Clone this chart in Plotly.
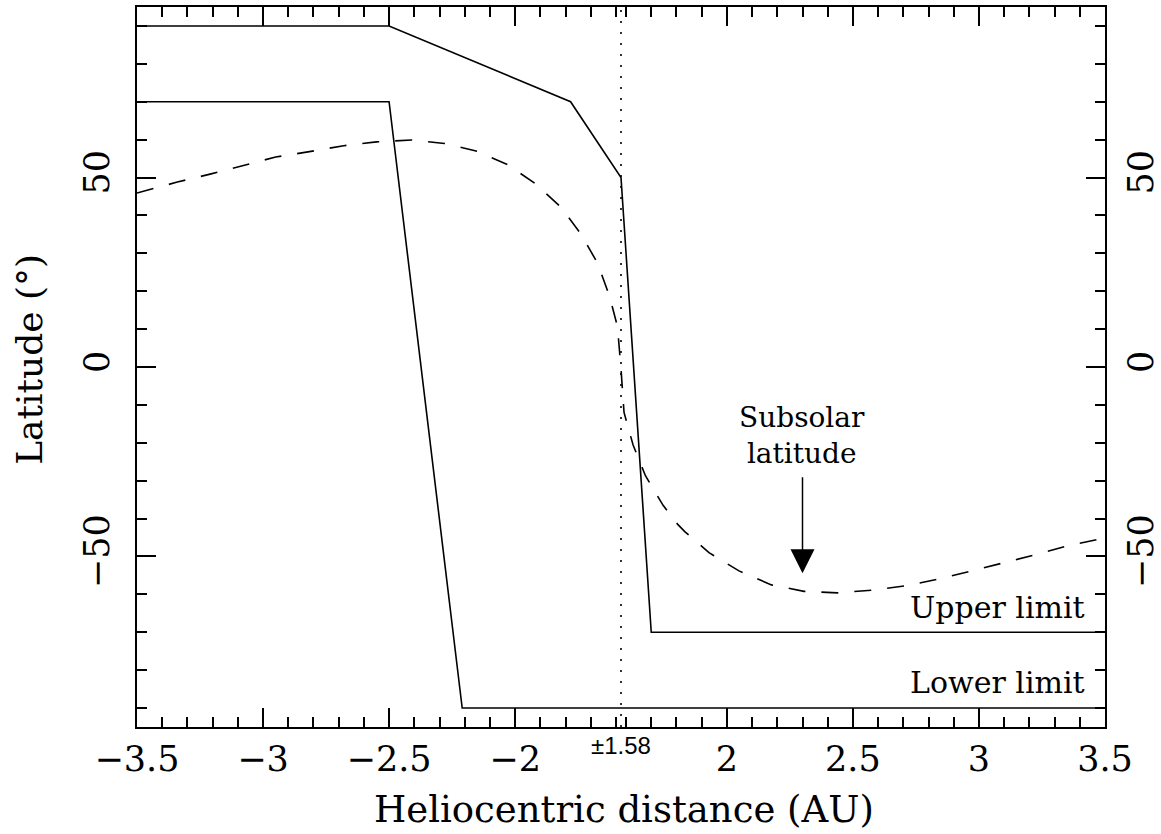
import plotly.graph_objects as go

# ---------------- data (heliocentric distance in AU, latitude in degrees) ----------------
BREAK = 1.58  # perihelion distance: axis jumps from -1.58 to +1.58

upper_dist = [-3.5, -2.5, -1.78, -1.58, 1.58, 1.70, 3.5]
upper_lat = [90, 90, 70, 50, 50, -70, -70]

lower_dist = [-3.5, -2.5, -2.21, 3.5]
lower_lat = [70, 70, -90, -90]

subsolar_dist = [-3.5, -3.34, -3.21, -3.08, -2.95, -2.81, -2.68, -2.55, -2.41, -2.28,
                 -2.15, -2.03, -1.92, -1.82, -1.74, -1.673, -1.626, -1.594, -1.582, -1.58,
                 1.58, 1.592, 1.628, 1.677, 1.747, 1.806, 1.834, 1.929, 2.048, 2.177,
                 2.306, 2.439, 2.574, 2.716, 2.835, 2.966, 3.099, 3.232, 3.363, 3.5]
subsolar_lat = [45.9, 48.8, 50.9, 53.1, 55.4, 56.9, 58.4, 59.4, 59.9, 59.0,
                56.9, 53.4, 48.4, 42.3, 35.2, 27.4, 18.8, 10.7, 2.4, 0.5,
                -0.5, -12.0, -20.6, -28.7, -36.5, -41.6, -43.5, -49.0, -53.8, -57.5,
                -59.2, -59.6, -58.9, -57.7, -56.0, -53.9, -51.7, -49.4, -47.0, -45.1]

x_major_ticks = [-3.5, -3.0, -2.5, -2.0, 2.0, 2.5, 3.0, 3.5]
x_major_labels = ["\u22123.5", "\u22123", "\u22122.5", "\u22122", "2", "2.5", "3", "3.5"]
y_major_ticks = [-50, 0, 50]
y_major_labels = ["\u221250", "0", "50"]


def to_axis(d):
    """Map heliocentric distance onto the broken axis coordinate."""
    return d + BREAK if d < 0 else d - BREAK


def axis_list(vals):
    return [to_axis(v) for v in vals]


# minor ticks every 0.1 AU on each branch
x_minor = [round(-3.5 + 0.1 * i, 2) for i in range(20) if -3.5 + 0.1 * i <= -1.58]
x_minor += [round(1.6 + 0.1 * i, 2) for i in range(20) if 1.6 + 0.1 * i <= 3.5 + 1e-9]
x_minor = [v for v in x_minor if all(abs(v - m) > 1e-6 for m in x_major_ticks)]
y_minor = [v for v in range(-90, 91, 10) if v not in y_major_ticks]

SERIF = "DejaVu Serif"
BLACK = "black"

fig = go.Figure()

fig.add_trace(go.Scatter(x=axis_list(upper_dist), y=upper_lat, mode="lines",
                         line=dict(color=BLACK, width=1.6), showlegend=False))
fig.add_trace(go.Scatter(x=axis_list(lower_dist), y=lower_lat, mode="lines",
                         line=dict(color=BLACK, width=1.6), showlegend=False))
fig.add_trace(go.Scatter(x=axis_list(subsolar_dist), y=subsolar_lat, mode="lines",
                         line=dict(color=BLACK, width=1.6, dash="17px,16px"),
                         showlegend=False))
# invisible trace to activate the right-hand axis
fig.add_trace(go.Scatter(x=[0], y=[0], yaxis="y2", mode="markers",
                         marker=dict(opacity=0), showlegend=False, hoverinfo="skip"))

# dotted line at the perihelion break
fig.add_shape(type="line", xref="x", yref="paper", x0=0, x1=0, y0=0, y1=1,
              line=dict(color=BLACK, width=1.6, dash="2px,9px"))

tick_common = dict(ticks="inside", tickcolor=BLACK, tickwidth=1.5, showgrid=False,
                   zeroline=False, showline=True, linecolor=BLACK, linewidth=1.8,
                   automargin=False)

fig.update_layout(
    width=1161, height=834,
    margin=dict(l=137, r=56, t=7, b=107),
    paper_bgcolor="white", plot_bgcolor="white",
    xaxis=dict(range=[to_axis(-3.5), to_axis(3.5)], tickmode="array",
               tickvals=axis_list(x_major_ticks), ticktext=x_major_labels,
               ticklen=19, mirror="ticks",
               tickfont=dict(family=SERIF, size=35, color=BLACK),
               ticklabelstandoff=0,
               minor=dict(tickvals=axis_list(x_minor), ticklen=10, ticks="inside",
                          tickcolor=BLACK, tickwidth=1.5),
               **tick_common),
    yaxis=dict(range=[-95, 95], tickmode="array", tickvals=y_major_ticks,
               ticktext=y_major_labels, tickangle=-90, ticklen=19, mirror="ticks",
               tickfont=dict(family=SERIF, size=35, color=BLACK),
               ticklabelstandoff=12,
               minor=dict(tickvals=y_minor, ticklen=10, ticks="inside",
                          tickcolor=BLACK, tickwidth=1.5),
               **tick_common),
    yaxis2=dict(range=[-95, 95], overlaying="y", side="right", tickmode="array",
                tickvals=y_major_ticks, ticktext=y_major_labels, tickangle=-90,
                ticks="", showgrid=False, zeroline=False, showline=False,
                automargin=False,
                tickfont=dict(family=SERIF, size=35, color=BLACK),
                ticklabelstandoff=12),
)

# axis titles
fig.add_annotation(text="Heliocentric distance (AU)", xref="paper", yref="paper",
                   x=0.503, y=(727 - 809) / 720, xanchor="center", yanchor="middle",
                   showarrow=False, font=dict(family=SERIF, size=37, color=BLACK))
fig.add_annotation(text="Latitude (\u00b0)", xref="paper", yref="paper",
                   x=(30 - 137) / 968, y=0.51, xanchor="center", yanchor="middle",
                   textangle=-90, showarrow=False,
                   font=dict(family=SERIF, size=36, color=BLACK))

# break label
fig.add_annotation(text="\u00b11.58", xref="x", yref="paper", x=0, y=(727 - 746) / 720,
                   xanchor="center", yanchor="middle", showarrow=False,
                   font=dict(family="Liberation Sans", size=24, color=BLACK))

# curve labels
fig.add_annotation(text="Subsolar<br>latitude", x=to_axis(2.298), y=-18.0,
                   xanchor="center", yanchor="middle", showarrow=False,
                   font=dict(family=SERIF, size=28, color=BLACK))
fig.add_annotation(text="", x=to_axis(2.3), y=-54.4, ax=to_axis(2.3), ay=-28.7,
                   xref="x", yref="y", axref="x", ayref="y", showarrow=True,
                   arrowhead=2, arrowsize=3.2, arrowwidth=1.5, arrowcolor=BLACK,
                   standoff=0)
fig.add_annotation(text="Upper limit", x=to_axis(3.43), y=-63.5, xanchor="right",
                   yanchor="middle", showarrow=False,
                   font=dict(family=SERIF, size=30, color=BLACK))
fig.add_annotation(text="Lower limit", x=to_axis(3.43), y=-83.3, xanchor="right",
                   yanchor="middle", showarrow=False,
                   font=dict(family=SERIF, size=30, color=BLACK))

fig.write_html("out.html")
